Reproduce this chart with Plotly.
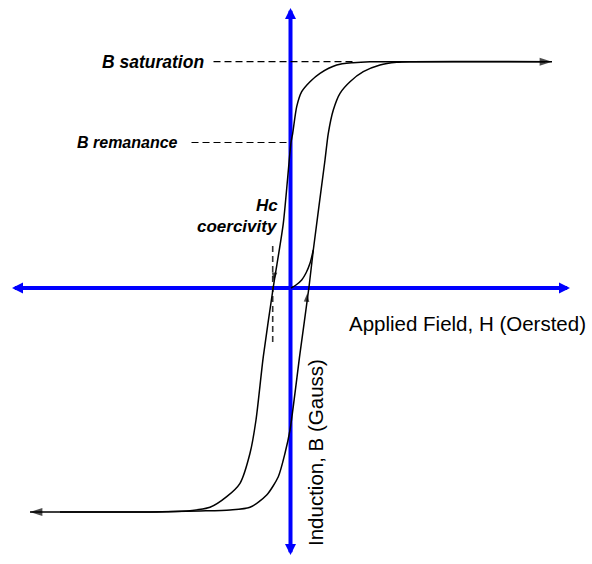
import plotly.graph_objects as go

# ---------------- data ----------------
# units: H and B in arbitrary units, origin at the axis crossing
desc_H = [25.45, 10.95, 7.95, 6.25, 4.62, 2.95, 1.95, 1.12, 0.62, 0.22, 0.05,
          -0.72, -1.72, -2.72, -3.45, -4.05, -5.05, -6.38, -8.05, -10.05, -12.38, -15.05, -26.05]
desc_B = [22.63, 22.63, 22.63, 22.53, 22.3, 21.47, 20.63, 19.63, 18.13, 15.47, 14.55,
          6.47, 0.1, -6.87, -13.2, -16.53, -19.53, -20.87, -21.93, -22.27, -22.37, -22.4, -22.4]

asc_H = [-23.05, -14.05, -9.05, -6.05, -4.05, -2.38, -1.22, -0.55, -0.05, 0.95, 1.85,
         2.28, 3.45, 3.78, 4.28, 4.95, 5.95, 7.28, 8.95, 10.62, 11.95, 26.15]
asc_B = [-22.4, -22.4, -22.3, -22.2, -21.93, -20.7, -18.87, -16.53, -14.2, -6.53, 0.1,
         3.8, 12.8, 15.47, 17.8, 19.47, 20.63, 21.63, 22.3, 22.57, 22.63, 22.63]

virgin_H = [0.05, 0.55, 1.12, 1.55, 1.95, 2.28]
virgin_B = [0.0, 0.3, 0.8, 1.5, 2.47, 3.8]

B_SAT = 22.63    # saturation induction
B_REM = 14.55    # remanence
H_C = -1.78      # coercive field

labels = {
    "sat": "<b><i>B saturation</i></b>",
    "rem": "<b><i>B remanance</i></b>",
    "hc": "<b><i>Hc</i></b>",
    "coer": "<b><i>coercivity</i></b>",
    "xlab": "Applied Field, H (Oersted)",
    "ylab": "Induction, B (Gauss)",
}

# ---------------- styling / layout constants ----------------
W, H = 592, 564
X_RANGE = [-29.05, 30.15]
Y_RANGE = [-27.6, 28.8]
BLUE = "#0000FF"
FONT = "Liberation Sans, Arial, sans-serif"

fig = go.Figure()
ann = []


def line(x, y, color="black", width=1.5, dash=None, shape="linear", smoothing=1.0):
    fig.add_trace(go.Scatter(
        x=x, y=y, mode="lines",
        line=dict(color=color, width=width, dash=dash, shape=shape, smoothing=smoothing),
        hoverinfo="skip", showlegend=False))


def arrow(x0, y0, x1, y1, color, size, symbol="arrow"):
    fig.add_trace(go.Scatter(
        x=[x0, x1], y=[y0, y1], mode="markers",
        marker=dict(symbol=symbol, size=[0, size], angleref="previous",
                    color=color, line=dict(width=0)),
        hoverinfo="skip", showlegend=False))


def ann_arrow(x0, y0, x1, y1, color, width, size, head=2):
    ann.append(dict(x=x1, y=y1, ax=x0, ay=y0, xref="x", yref="y", axref="x", ayref="y",
                    text="", showarrow=True, arrowhead=head, arrowsize=size,
                    arrowwidth=width, arrowcolor=color, standoff=0, startstandoff=0))


# blue axes (double headed)
HX0, HX1 = -27.85, 27.95
VY0, VY1 = -26.7, 28.0
line([HX0 + 1.0, HX1 - 1.0], [0, 0], color=BLUE, width=4)
line([0, 0], [VY0 + 1.0, VY1 - 1.0], color=BLUE, width=4)
ann_arrow(HX1 - 1.2, 0, HX1, 0, BLUE, 4, 0.55)
ann_arrow(HX0 + 1.2, 0, HX0, 0, BLUE, 4, 0.55)
ann_arrow(0, VY1 - 1.2, 0, VY1, BLUE, 4, 0.55)
ann_arrow(0, VY0 + 1.2, 0, VY0, BLUE, 4, 0.55)

# dashed guide lines
line([-7.7, 6.5], [B_SAT, B_SAT], width=1.2, dash="7px,4px")
line([-9.9, 0.0], [B_REM, B_REM], width=1.2, dash="7px,4px")
line([H_C, H_C], [4.2, -5.4], color="#333333", width=1.6, dash="6px,4px")

# hysteresis loop
line(desc_H, desc_B, shape="spline", smoothing=0.7)
line(asc_H, asc_B, shape="spline", smoothing=0.7)
line(virgin_H, virgin_B, shape="spline", smoothing=0.8)

# arrowheads on the curves
arrow(desc_H[-2], desc_B[-2], desc_H[-1], desc_B[-1], "black", 13)
arrow(asc_H[-2], asc_B[-2], asc_H[-1], asc_B[-1], "black", 13)
arrow(-1.5, 2.5, -1.68, 0.7, "black", 9)
arrow(1.55, -2.0, 1.68, -0.53, "black", 9)

ann.append(dict(x=-8.5, y=B_SAT, text=labels["sat"], xanchor="right", yanchor="middle",
                font=dict(size=17.5, family=FONT, color="black"), showarrow=False))
ann.append(dict(x=-11.05, y=B_REM, text=labels["rem"], xanchor="right", yanchor="middle",
                font=dict(size=16, family=FONT, color="black"), showarrow=False))
ann.append(dict(x=-1.05, y=8.3, text=labels["hc"], xanchor="right", yanchor="middle",
                font=dict(size=17, family=FONT, color="black"), showarrow=False))
ann.append(dict(x=-1.05, y=6.15, text=labels["coer"], xanchor="right", yanchor="middle",
                font=dict(size=17, family=FONT, color="black"), showarrow=False))
ann.append(dict(x=5.65, y=-3.5, text=labels["xlab"], xanchor="left", yanchor="middle",
                font=dict(size=20.5, family=FONT, color="black"), showarrow=False))
ann.append(dict(x=2.45, y=-16.5, text=labels["ylab"], xanchor="center", yanchor="middle",
                textangle=-90, font=dict(size=20.5, family=FONT, color="black"), showarrow=False))

fig.update_layout(
    width=W, height=H,
    margin=dict(l=0, r=0, t=0, b=0),
    paper_bgcolor="white", plot_bgcolor="white",
    showlegend=False,
    xaxis=dict(range=X_RANGE, visible=False, fixedrange=True),
    yaxis=dict(range=Y_RANGE, visible=False, fixedrange=True),
    annotations=ann,
)

fig.write_html("out.html", config={"displayModeBar": False},
               post_script="document.body.style.margin='0';document.body.style.overflow='hidden';")
